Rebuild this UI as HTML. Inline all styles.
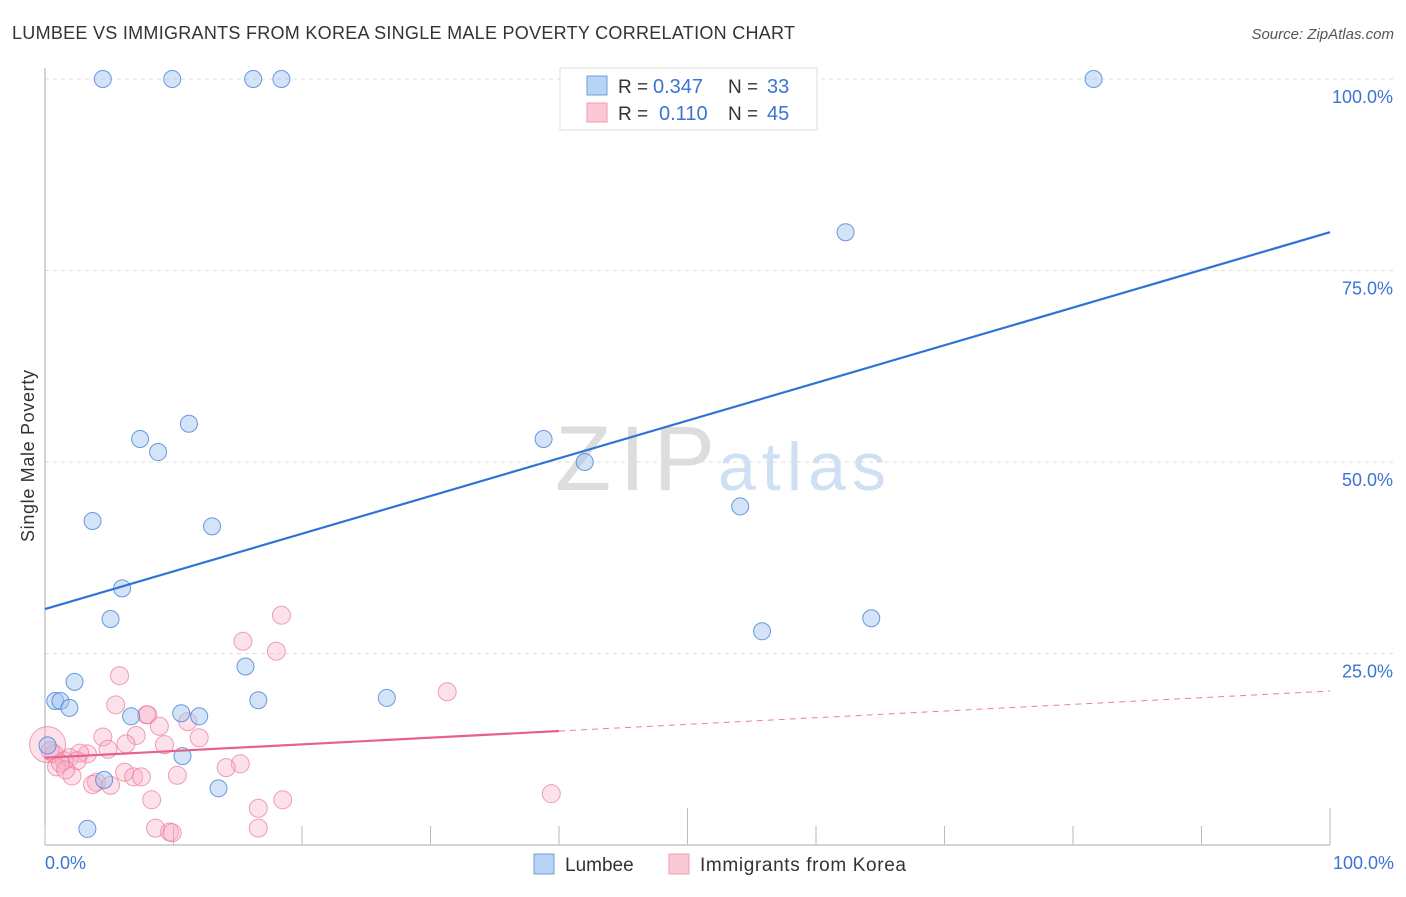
<!DOCTYPE html>
<html><head><meta charset="utf-8"><style>
body{margin:0;background:#fff;font-family:"Liberation Sans",sans-serif}
svg text{font-family:"Liberation Sans",sans-serif}
</style></head><body>
<svg width="1406" height="892" viewBox="0 0 1406 892">
<text x="12" y="39" font-size="18" fill="#333" textLength="783">LUMBEE VS IMMIGRANTS FROM KOREA SINGLE MALE POVERTY CORRELATION CHART</text>
<text x="1394" y="39" font-size="15" fill="#555" font-style="italic" text-anchor="end">Source: ZipAtlas.com</text>
<g id="grid"></g>
<text x="715" y="490" font-size="92" fill="#ddd" font-family="Liberation Serif" text-anchor="end" textLength="160">ZIP</text>
<text x="718" y="490" font-size="68" fill="#cfe0f5" textLength="168">atlas</text>
<g id="ticks"></g>
<g id="pink"></g><g id="blue"></g><g id="trend"></g>
<text transform="translate(34,456) rotate(-90)" font-size="18" fill="#333" text-anchor="middle" textLength="172">Single Male Poverty</text>
<text x="45" y="869" font-size="18" fill="#3a74d4">0.0%</text>
<text x="1394" y="869" font-size="18" fill="#3a74d4" text-anchor="end">100.0%</text>
<g>
<rect x="560" y="68" width="257" height="62" fill="#fff" stroke="#ddd"/>
<rect x="587" y="76" width="20" height="19" fill="#b8d4f5" stroke="#6a9fe0"/>
<text x="618" y="93" font-size="19" fill="#333">R =</text><text x="653" y="93" font-size="20" fill="#3a74d4">0.347</text>
<text x="728" y="93" font-size="19" fill="#333">N =</text><text x="767" y="93" font-size="20" fill="#3a74d4">33</text>
<rect x="587" y="103" width="20" height="19" fill="#fbc8d6" stroke="#f09ab3"/>
<text x="618" y="120" font-size="19" fill="#333">R =</text><text x="659" y="120" font-size="20" fill="#3a74d4">0.110</text>
<text x="728" y="120" font-size="19" fill="#333">N =</text><text x="767" y="120" font-size="20" fill="#3a74d4">45</text>
</g>
<g>
<rect x="534" y="854" width="20" height="20" fill="#b8d4f5" stroke="#6a9fe0"/>
<text x="565" y="871" font-size="19" fill="#333">Lumbee</text>
<rect x="669" y="854" width="20" height="20" fill="#fbc8d6" stroke="#f09ab3"/>
<text x="700" y="871" font-size="19" fill="#333" textLength="206">Immigrants from Korea</text>
</g>
</svg>
<script>
const yTicks=[25,50,75,100];
const yTickLabels=["25.0%","50.0%","75.0%","100.0%"];
const xTicks=[0,10,20,30,40,50,60,70,80,90,100];
const blueX=[4.5,9.9,16.2,18.4,81.6,62.3,11.2,7.4,8.8,38.8,42.0,3.7,13.0,54.1,6.0,5.1,55.8,64.3,15.6,2.3,0.8,1.2,1.9,16.6,26.6,6.7,10.6,12.0,10.7,4.6,13.5,3.3,0.2];
const blueY=[100,100,100,100,100,80,55,53,51.3,53,50,42.3,41.6,44.2,33.5,29.5,27.9,29.6,23.3,21.3,18.8,18.8,17.9,18.9,19.2,16.8,17.2,16.8,11.6,8.5,7.4,2.1,13];
const pinkX=[0.2,18.4,15.4,18,5.8,31.3,5.5,7.9,8.0,8.9,11.1,7.1,9.3,12,4.5,6.3,4.9,3.3,2.7,1.9,0.7,1.5,2.5,0.9,2.1,6.2,10.3,15.2,14.1,6.9,7.5,4.0,3.7,5.1,8.3,16.6,18.5,39.4,8.6,9.7,9.9,16.6,1.2,0.4,1.6];
const pinkY=[13.1,30.0,26.6,25.3,22.1,20.0,18.3,17.0,17.0,15.5,16.1,14.3,13.1,14.0,14.1,13.2,12.5,11.9,12.0,11.4,11.9,11.0,11.0,10.2,9.0,9.5,9.1,10.6,10.1,8.9,8.9,8.2,7.9,7.8,5.9,4.8,5.9,6.7,2.2,1.7,1.6,2.2,10.7,12.3,9.8];
const pinkR=[18,9,9,9,9,9,9,9,9,9,9,9,9,9,9,9,9,9,9,9,9,9,9,9,9,9,9,9,9,9,9,9,9,9,9,9,9,9,9,9,9,9,9,9,9];
const blueTrend=[30.8,80.0];
const pinkTrend=[11.4,20.1];
const pinkSolidEnd=40;
const X=v=>45+v*12.85, Y=v=>845-v*7.66;
const NS="http://www.w3.org/2000/svg";
function mk(tag,attrs,parent){const e=document.createElementNS(NS,tag);for(const k in attrs)e.setAttribute(k,attrs[k]);document.getElementById(parent).appendChild(e);return e;}
yTicks.forEach((t,i)=>{
 const l=mk('line',{x1:45,x2:1394,y1:Y(t),y2:Y(t),stroke:'#ddd','stroke-dasharray':'4,4'},'grid');
 
 
 const tx=mk('text',{x:1393,y:Y(t)+24,'font-size':18,fill:'#3a74d4','text-anchor':'end'},'grid');
 tx.textContent=yTickLabels[i];
 
 
});
const ax=mk('line',{x1:45,x2:1330,y1:845,y2:845,stroke:'#aaa'},'ticks');


const ay=mk('line',{x1:45,x2:45,y1:68,y2:845,stroke:'#aaa'},'ticks');


xTicks.forEach(t=>{
 const tall=(t===50||t===100);
 const l=mk('line',{x1:X(t),x2:X(t),y1:tall?808:826,y2:845,stroke:'#bbb'},'ticks');
 
 
});
pinkX.forEach((v,i)=>{
 const c=mk('circle',{cx:X(v),cy:Y(pinkY[i]),r:pinkR[i],fill:'rgba(248,170,195,0.35)',stroke:'rgba(232,120,155,0.7)','stroke-width':1},'pink');
 
 
});
blueX.forEach((v,i)=>{
 const c=mk('circle',{cx:X(v),cy:Y(blueY[i]),r:8.5,fill:'rgba(160,195,240,0.45)',stroke:'rgba(70,130,215,0.8)','stroke-width':1},'blue');
 
 
});
const bt=mk('line',{x1:X(0),y1:Y(blueTrend[0]),x2:X(100),y2:Y(blueTrend[1]),stroke:'#2e73d6','stroke-width':2.2},'trend');


const pm=pinkTrend[0]+(pinkTrend[1]-pinkTrend[0])*pinkSolidEnd/100;
const pt=mk('line',{x1:X(0),y1:Y(pinkTrend[0]),x2:X(pinkSolidEnd),y2:Y(pm),stroke:'#e8608e','stroke-width':2.2},'trend');


const pd=mk('line',{x1:X(pinkSolidEnd),y1:Y(pm),x2:X(100),y2:Y(pinkTrend[1]),stroke:'#e8809e','stroke-width':1,'stroke-dasharray':'6,5'},'trend');


</script>
</body></html>
